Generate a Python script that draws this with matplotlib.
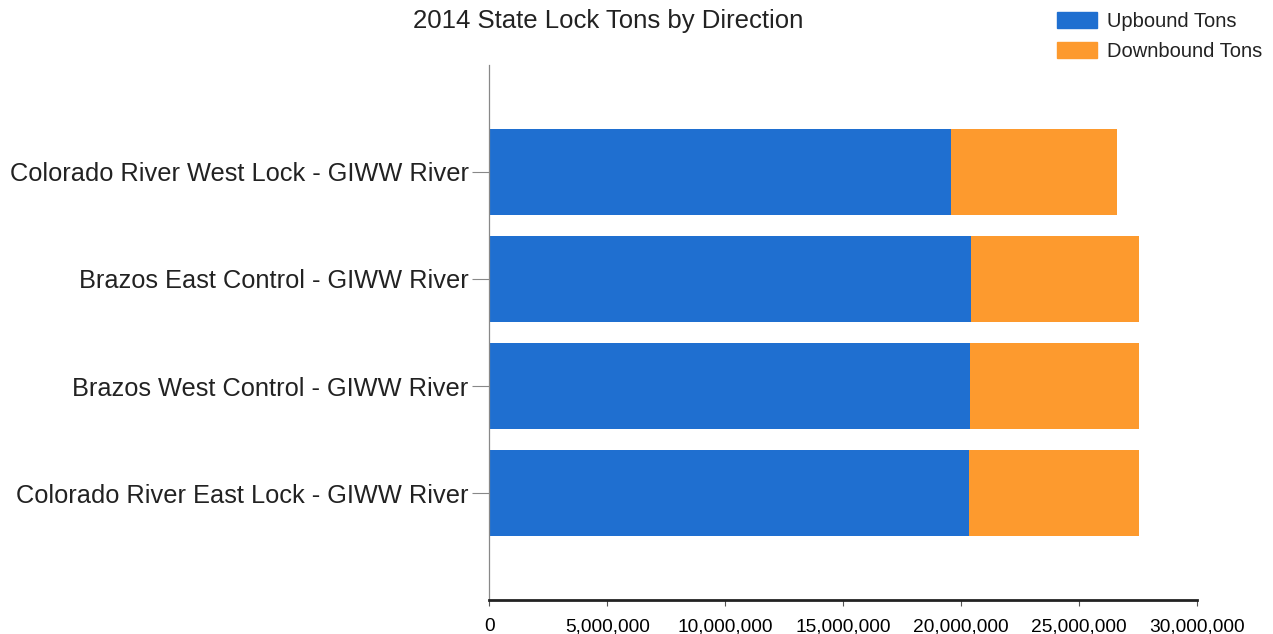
import matplotlib
matplotlib.use("Agg")
import matplotlib.pyplot as plt
from matplotlib.ticker import FuncFormatter
from matplotlib.patches import Patch

plt.rcParams['font.family'] = ['Liberation Sans', 'DejaVu Sans']

locks = ['Colorado River West Lock - GIWW River',
         'Brazos East Control - GIWW River',
         'Brazos West Control - GIWW River',
         'Colorado River East Lock - GIWW River']
upbound = [19556000, 20404000, 20375000, 20332000]
downbound = [7040000, 7150000, 7166000, 7196000]

blue = '#1f6fd0'
orange = '#fd9a2e'

fig = plt.figure(figsize=(12.73, 6.34), dpi=100)
ax = fig.add_axes([0.3845, 0.0536, 0.5558, 0.8439])

ypos = [3, 2, 1, 0]
ax.barh(ypos, upbound, height=0.8, color=blue)
ax.barh(ypos, downbound, left=upbound, height=0.8, color=orange)

ax.set_xlim(0, 30000000)
ax.set_ylim(-1, 4)
ax.set_xticks(range(0, 30000001, 5000000))
ax.xaxis.set_major_formatter(FuncFormatter(lambda v, p: f'{int(v):,}'))
ax.set_yticks(ypos)
ax.set_yticklabels(locks, fontsize=18.3, color='#222222')
ax.tick_params(axis='x', labelsize=13.8, length=4, color='#555555', pad=9)
ax.tick_params(axis='y', length=12, color='#888888', pad=3)

for s in ['top', 'right']:
    ax.spines[s].set_visible(False)
ax.spines['left'].set_color('#888888')
ax.spines['left'].set_linewidth(0.9)
ax.spines['bottom'].set_color('#222222')
ax.spines['bottom'].set_linewidth(2)

fig.text(0.478, 0.967, '2014 State Lock Tons by Direction', ha='center', va='center',
         fontsize=18.5, color='#222222')

handles = [Patch(color=blue, label='Upbound Tons'), Patch(color=orange, label='Downbound Tons')]
fig.legend(handles=handles, loc='upper left', bbox_to_anchor=(1057 / 1273, 1 - 12 / 634),
           frameon=False, borderpad=0, borderaxespad=0,
           fontsize=14.5, handlelength=2.0, handleheight=0.8, labelspacing=0.55,
           handletextpad=0.5, labelcolor='#222222')

fig.savefig('out.png', dpi=100)
